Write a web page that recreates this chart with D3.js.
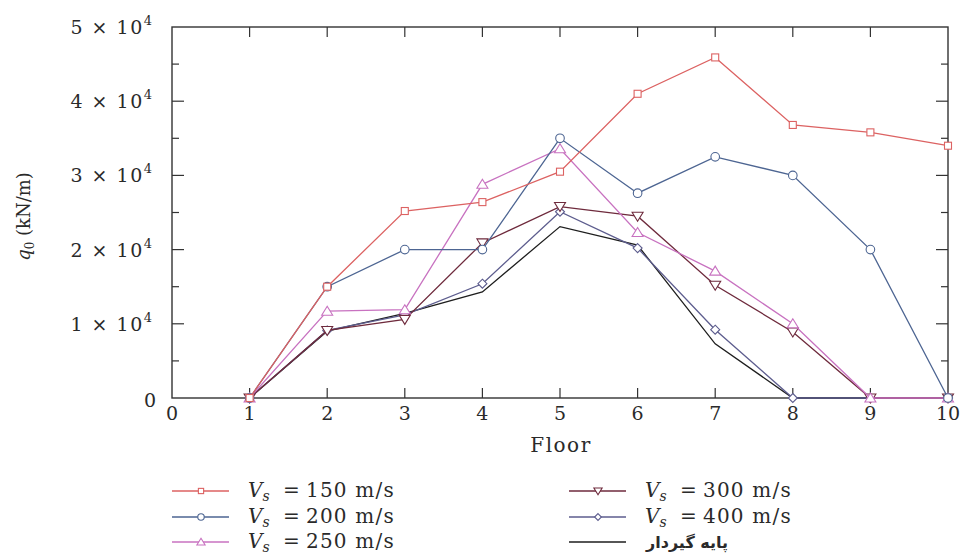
<!DOCTYPE html>
<html>
<head>
<meta charset="utf-8">
<script src="https://cdn.jsdelivr.net/npm/d3@7"></script>
<style>
  body { margin: 0; background: #fff; }
  text { font-family: "DejaVu Serif", "Liberation Serif", serif; fill: #2a2a2a; }
</style>
</head>
<body>
<div id="chart"></div>
<script>
// floors and values
var floors = [1, 2, 3, 4, 5, 6, 7, 8, 9, 10];
var vs150 = [0, 15000, 25200, 26400, 30500, 41000, 45900, 36800, 35800, 34000];
var vs200 = [0, 15000, 20000, 20000, 35000, 27600, 32500, 30000, 20000, 0];
var vs250 = [0, 11700, 11900, 28800, 33600, 22300, 17100, 10000, 0, 0];
var vs300 = [0, 9100, 10600, 20900, 25800, 24500, 15200, 8900, 0, 0];
var vs400 = [0, 9100, 11200, 15400, 25100, 20200, 9200, 0, 0, 0];
var fixedBase = [0, 9000, 11400, 14300, 23100, 20600, 7300, 0, 0, 0];
var yTickLabels = ["0", "1", "2", "3", "4", "5"];

var series = [
  {name: "150", values: vs150, color: "#dc6262", marker: "square"},
  {name: "200", values: vs200, color: "#4d6592", marker: "circle"},
  {name: "250", values: vs250, color: "#c872c0", marker: "triangle"},
  {name: "300", values: vs300, color: "#6e2a3c", marker: "triangleDown"},
  {name: "400", values: vs400, color: "#5d5d8e", marker: "diamond"},
  {name: "fixed", values: fixedBase, color: "#1e1e1e", marker: null}
];

var W = 967, H = 554;
var pLeft = 172, pRight = 948, pTop = 27, pBottom = 398;

var svg = d3.select("#chart").append("svg")
  .attr("width", W).attr("height", H);

var x = d3.scaleLinear().domain([0, 10]).range([pLeft, pRight]);
var y = d3.scaleLinear().domain([0, 50000]).range([pBottom, pTop]);

var axisColor = "#333";

// frame
svg.append("rect")
  .attr("x", pLeft).attr("y", pTop)
  .attr("width", pRight - pLeft).attr("height", pBottom - pTop)
  .attr("fill", "none").attr("stroke", axisColor).attr("stroke-width", 1.4);

// inner ticks
var xt = d3.range(1, 10);
svg.selectAll(".xtb").data(xt).enter().append("line")
  .attr("x1", d => x(d)).attr("x2", d => x(d))
  .attr("y1", pBottom).attr("y2", pBottom - 10)
  .attr("stroke", axisColor).attr("stroke-width", 1.2);
svg.selectAll(".xtt").data(xt).enter().append("line")
  .attr("x1", d => x(d)).attr("x2", d => x(d))
  .attr("y1", pTop).attr("y2", pTop + 10)
  .attr("stroke", axisColor).attr("stroke-width", 1.2);

var yt = d3.range(5000, 50000, 5000);
svg.selectAll(".ytl").data(yt).enter().append("line")
  .attr("x1", pLeft).attr("x2", d => pLeft + (d % 10000 == 0 ? 12 : 7))
  .attr("y1", d => y(d)).attr("y2", d => y(d))
  .attr("stroke", axisColor).attr("stroke-width", 1.2);
svg.selectAll(".ytr").data(yt).enter().append("line")
  .attr("x1", pRight).attr("x2", d => pRight - (d % 10000 == 0 ? 12 : 7))
  .attr("y1", d => y(d)).attr("y2", d => y(d))
  .attr("stroke", axisColor).attr("stroke-width", 1.2);

// x tick labels
svg.selectAll(".xl").data(d3.range(0, 11)).enter().append("text")
  .attr("x", d => x(d)).attr("y", pBottom + 22)
  .attr("text-anchor", "middle")
  .style("font-size", "19px")
  .text(d => d);

svg.append("text")
  .attr("x", 561).attr("y", pBottom + 54)
  .attr("text-anchor", "middle")
  .style("font-size", "20px")
  .style("letter-spacing", "1.5px")
  .text("Floor");

// y tick labels: "n × 10^4"
yTickLabels.forEach(function(lab, i) {
  var t = svg.append("text")
    .attr("x", pLeft - 20).attr("y", y(i * 10000) + 7)
    .attr("text-anchor", "end")
    .style("font-size", "19px");
  if (i == 0) {
    t.attr("y", y(0) + 9).attr("x", pLeft - 16).text("0");
  } else {
    t.append("tspan").style("letter-spacing", "1.5px").text(lab + " \u00d7 10");
    t.append("tspan").attr("dy", -9).style("font-size", "13px").text("4");
  }
});

// y title
var yt0 = svg.append("text")
  .attr("transform", "translate(30," + ((pTop + pBottom) / 2 + 4) + ") rotate(-90)")
  .attr("text-anchor", "middle")
  .style("font-size", "18px");
yt0.append("tspan").style("font-style", "italic").text("q");
yt0.append("tspan").attr("dy", 4).style("font-size", "12px").text("0");
yt0.append("tspan").attr("dy", -4).text(" (kN/m)");

function drawMarker(g, type, cx, cy, color, k) {
  k = k || 1;
  var s = 3.5 * k;
  if (type == "square") {
    g.append("rect").attr("x", cx - s).attr("y", cy - s)
      .attr("width", 2 * s).attr("height", 2 * s);
  } else if (type == "circle") {
    g.append("circle").attr("cx", cx).attr("cy", cy).attr("r", 4.3 * k);
  } else if (type == "triangle") {
    g.append("path").attr("d", "M" + cx + "," + (cy - 5 * k) + "L" + (cx + 5.5 * k) + "," + (cy + 4 * k) + "L" + (cx - 5.5 * k) + "," + (cy + 4 * k) + "Z");
  } else if (type == "triangleDown") {
    g.append("path").attr("d", "M" + cx + "," + (cy + 5 * k) + "L" + (cx + 5.5 * k) + "," + (cy - 4 * k) + "L" + (cx - 5.5 * k) + "," + (cy - 4 * k) + "Z");
  } else if (type == "diamond") {
    g.append("path").attr("d", "M" + cx + "," + (cy - 4.5 * k) + "L" + (cx + 4.5 * k) + "," + cy + "L" + cx + "," + (cy + 4.5 * k) + "L" + (cx - 4.5 * k) + "," + cy + "Z");
  }
  g.selectAll("*").attr("fill", "#fff").attr("stroke", color).attr("stroke-width", 1.1);
}

var line = d3.line()
  .x(function(d, i) { return x(floors[i]); })
  .y(function(d) { return y(d); });

// draw back to front so the red/blue stay on top like the figure
series.slice().reverse().forEach(function(s) {
  svg.append("path")
    .attr("d", line(s.values))
    .attr("fill", "none")
    .attr("stroke", s.color)
    .attr("stroke-width", 1.3);
  if (s.marker) {
    s.values.forEach(function(v, i) {
      drawMarker(svg.append("g"), s.marker, x(floors[i]), y(v), s.color);
    });
  }
});

// legend
var legendItems = [
  {s: series[0], lx: 172, ly: 491},
  {s: series[1], lx: 172, ly: 517},
  {s: series[2], lx: 172, ly: 542},
  {s: series[3], lx: 569, ly: 491},
  {s: series[4], lx: 569, ly: 517},
  {s: series[5], lx: 569, ly: 542}
];
legendItems.forEach(function(it) {
  var g = svg.append("g");
  g.append("line")
    .attr("x1", it.lx).attr("x2", it.lx + 57)
    .attr("y1", it.ly).attr("y2", it.ly)
    .attr("stroke", it.s.color).attr("stroke-width", 1.3);
  if (it.s.marker) drawMarker(g.append("g"), it.s.marker, it.lx + 29, it.ly, it.s.color, 0.75);
  if (it.s.name == "fixed") {
    g.append("text")
      .attr("x", it.lx + 118).attr("y", it.ly + 6)
      .attr("text-anchor", "middle")
      .style("font-family", "'DejaVu Sans', sans-serif")
      .style("font-size", "16px").style("font-weight", "bold")
      .attr("direction", "rtl")
      .text("پایه گیردار");
  } else {
    var t = g.append("text")
      .attr("y", it.ly + 6)
      .style("font-size", "20px");
    t.append("tspan").attr("x", it.lx + 76).style("font-style", "italic").text("V");
    t.append("tspan").attr("dy", 4).style("font-style", "italic").style("font-size", "14px").text("s");
    t.append("tspan").attr("dy", -4).attr("x", it.lx + 111).text("=");
    t.append("tspan").attr("x", it.lx + 134).style("letter-spacing", "1.2px").text(it.s.name + " m/s");
  }
});
</script>
</body>
</html>
